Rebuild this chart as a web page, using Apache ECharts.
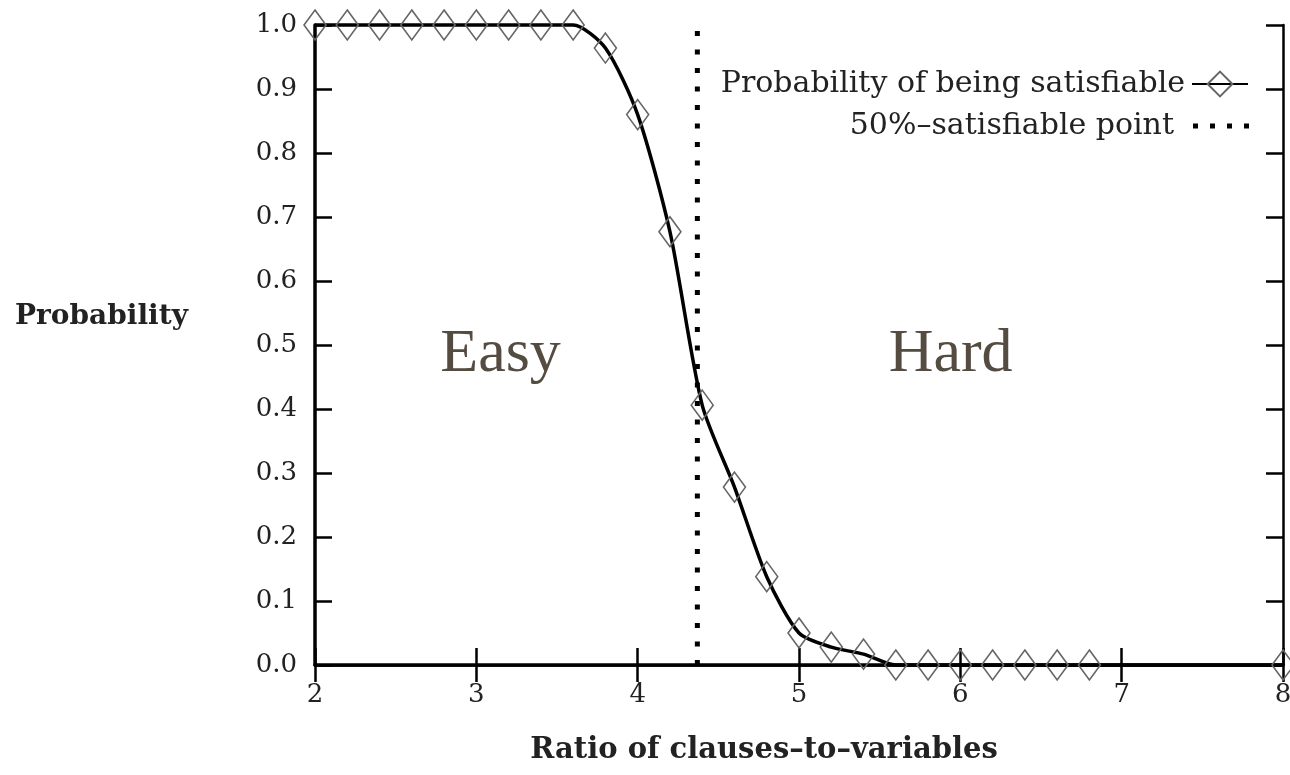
<!DOCTYPE html>
<html><head><meta charset="utf-8">
<script src="https://cdn.jsdelivr.net/npm/echarts@6/dist/echarts.min.js"></script>
<style>html,body{margin:0;padding:0;background:#fff}#c{width:1290px;height:775px}</style>
</head><body><div id="c"></div>
<script>
const ratios = [2.0,2.2,2.4,2.6,2.8,3.0,3.2,3.4,3.6,3.8,4.0,4.2,4.4,4.6,4.8,5.0,5.2,5.4,5.6,5.8,6.0,6.2,6.4,6.6,6.8,8.0];
const probSat = [1,1,1,1,1,1,1,1,1,0.964,0.86,0.677,0.406,0.278,0.138,0.05,0.028,0.017,0,0,0,0,0,0,0,0];
const halfPoint = 4.37;
const xTicks = [2,3,4,5,6,7,8];
const regionLabels = [{name:'Easy', x:3.15, y:0.485},{name:'Hard', x:5.94, y:0.485}];
const serif = 'DejaVu Serif';

const chart = echarts.init(document.getElementById('c'));
const tickCommon = {show:true, inside:true, length:17, lineStyle:{color:'#000', width:2.5}};
const lineCommon = {show:true, lineStyle:{color:'#000', width:2.5}};
chart.setOption({
  backgroundColor:'#fff',
  animation:false,
  grid:{left:315, right:7, top:25, bottom:110, outerBoundsMode:'none', containLabel:false},
  xAxis:[
    {type:'value', min:2, max:8, interval:1, axisLine:{show:true, lineStyle:{color:'#000', width:3.5}}, axisTick:tickCommon, splitLine:{show:false},
     axisLabel:{margin:17, color:'#222', fontFamily:serif, fontSize:26}},
    {type:'value', position:'top', min:2, max:8, interval:1, axisLine:lineCommon, axisTick:tickCommon, splitLine:{show:false}, axisLabel:{show:false}}
  ],
  yAxis:[
    {type:'value', min:0, max:1, interval:0.1, axisLine:{show:true, lineStyle:{color:'#000', width:3.5}}, axisTick:tickCommon, splitLine:{show:false},
     axisLabel:{margin:18, color:'#222', fontFamily:serif, fontSize:26, formatter:v=>v.toFixed(1)}},
    {type:'value', position:'right', min:0, max:1, interval:0.1, axisLine:lineCommon, axisTick:tickCommon, splitLine:{show:false}, axisLabel:{show:false}}
  ],
  legend:[
    {data:['Probability of being satisfiable'], right:41, top:69, padding:0, align:'right', itemWidth:56, itemHeight:31, itemGap:0,
     textStyle:{fontFamily:serif, fontSize:30, color:'#222', padding:[0,2,0,0]}},
    {data:[{name:'50%–satisfiable point', icon:'path://M0,0h5v5h-5zM17,0h5v5h-5zM34,0h5v5h-5zM51,0h5v5h-5z'}],
     right:41, top:111, padding:0, align:'right', itemWidth:56, itemHeight:5, itemStyle:{color:'#000'},
     textStyle:{fontFamily:serif, fontSize:30, color:'#222', padding:[0,14,0,0]}}
  ],
  graphic:[
    {type:'text', left:15, top:303, style:{text:'Probability', font:'bold 28px "DejaVu Serif"', fill:'#222'}},
    {type:'text', x:764, y:750, style:{text:'Ratio of clauses–to–variables', font:'bold 29px "DejaVu Serif"', fill:'#222', align:'center', verticalAlign:'middle'}}
  ],
  series:[
    {name:'Probability of being satisfiable', type:'line', data:ratios.map((r,i)=>[r, probSat[i]]),
     smooth:0.25, clip:false, z:3,
     symbol:'diamond', symbolSize:[22,30],
     itemStyle:{color:'rgba(255,255,255,0)', borderColor:'#666', borderWidth:1.6},
     lineStyle:{color:'#000', width:3.5}},
    {name:'50%–satisfiable point', type:'line', data:[[halfPoint,0],[halfPoint,1]], symbol:'none', z:2,
     itemStyle:{color:'#000'},
     lineStyle:{color:'#000', width:5, type:[5,13.5], cap:'butt'}},
    {name:'labels', type:'scatter', data:regionLabels.map(d=>({name:d.name, value:[d.x,d.y]})), symbolSize:0, z:4,
     label:{show:true, position:'inside', formatter:p=>p.name, fontFamily:'Liberation Serif', fontSize:62,
            color:'#544b41', textBorderWidth:0, opacity:1}}
  ]
});
</script></body></html>
